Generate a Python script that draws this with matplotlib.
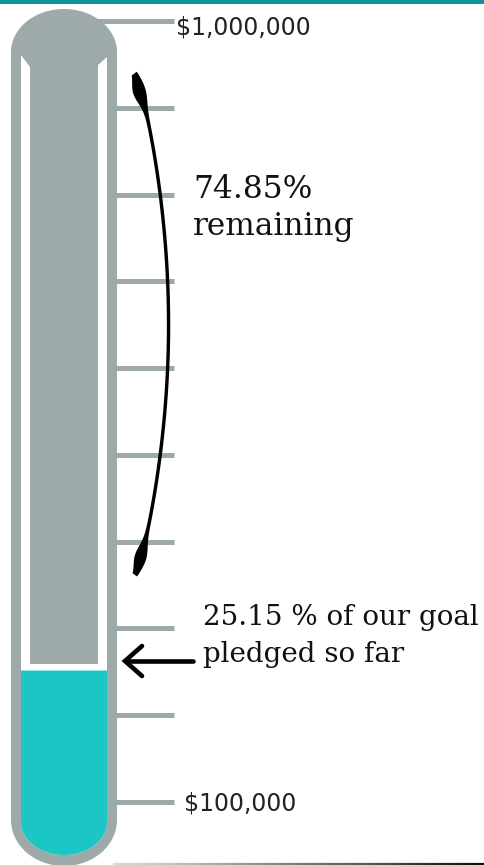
import numpy as np
import matplotlib
matplotlib.use("Agg")
import matplotlib.pyplot as plt
from matplotlib.patches import Rectangle, Ellipse, Polygon
from matplotlib.collections import LineCollection

# ---------------- data ----------------
goal = 1_000_000
tick_values = [100000, 200000, 300000, 400000, 500000,
               600000, 700000, 800000, 900000, 1000000]
tick_labels = {100000: "$100,000", 1000000: "$1,000,000"}
pledged_pct = 25.15
remaining_pct = 74.85
pledged_value = goal * pledged_pct / 100.0

# ---------------- style ----------------
GREY = "#9eaaa9"
TEAL = "#1cc6c4"
BAR = "#0b9397"
W, H = 484, 865

fig = plt.figure(figsize=(W / 100, H / 100), dpi=100)
ax = fig.add_axes([0, 0, 1, 1])
ax.axis("off")

# vertical layout: dollar scale anchored to pixel rows of the ticks
PX_LO, PX_HI = 802, 21            # pixel rows of lowest / highest tick
K = (tick_values[-1] - tick_values[0]) / (PX_LO - PX_HI)   # dollars per px


def Y(p):
    """pixel row -> dollar coordinate (layout helper)"""
    return tick_values[-1] + (PX_HI - p) * K


ax.set_xlim(0, W)
ax.set_ylim(Y(H), Y(0))

# top colour band
ax.add_patch(Rectangle((0, Y(4)), W, Y(0) - Y(4), color=BAR, lw=0, zorder=1))

# tick lines
for v in tick_values:
    ax.plot([64, 174], [v, v], color=GREY, lw=3.6, solid_capstyle="butt", zorder=1)

# outer thermometer body
ax.add_patch(Rectangle((11, Y(820)), 106, Y(50) - Y(820), color=GREY, lw=0, zorder=2))
ax.add_patch(Ellipse((64, Y(52)), 106, 86 * K, color=GREY, lw=0, zorder=2))
ax.add_patch(Ellipse((64, Y(820)), 106, 92 * K, color=GREY, lw=0, zorder=2))

# white inner tube
th = np.linspace(np.pi, 2 * np.pi, 60)
bx = 64 + 43 * np.cos(th)
by = 822 - 33 * np.sin(th)
tube = [(21, 55), (30, 67), (98, 65), (107, 57), (107, 822)]
tube += list(zip(bx[::-1], by[::-1]))
tube += [(21, 822)]
ax.add_patch(Polygon([(x, Y(y)) for x, y in tube], closed=True,
                     color="white", lw=0, zorder=3))

# remaining (grey) fill
gap = 7 * K
ax.add_patch(Rectangle((30, pledged_value + gap), 68, Y(45) - (pledged_value + gap),
                       color=GREY, lw=0, zorder=4))

# pledged (teal) fill
teal = [(21, pledged_value), (107, pledged_value), (107, Y(822))]
teal += [(x, Y(y)) for x, y in zip(bx[::-1], by[::-1])]
teal += [(21, Y(822))]
ax.add_patch(Polygon(teal, closed=True, color=TEAL, lw=0, zorder=4))

# brace for the remaining part
ys = np.linspace(73, 575, 500)
t = (ys - 73) / 502
xc = 135 + 34 * np.sin(np.pi * t) ** 0.75
w = (3.4 + 9.5 * np.exp(-((t - 0.035) / 0.032) ** 2)
     + 8.5 * np.exp(-((t - 0.965) / 0.03) ** 2))
dx = np.gradient(xc, ys)
nrm = np.sqrt(1 + dx ** 2)
nx, ny = 1 / nrm, -dx / nrm
a = 0.68 - 0.10 * t
b = 1 - a
left = [(x - aa * ww * n1, y - aa * ww * n2) for x, y, ww, n1, n2, aa in zip(xc, ys, w, nx, ny, a)]
right = [(x + bb * ww * n1, y + bb * ww * n2) for x, y, ww, n1, n2, bb in zip(xc, ys, w, nx, ny, b)]
brace = left + right[::-1]
ax.add_patch(Polygon([(x, Y(y)) for x, y in brace], closed=True,
                     color="black", lw=0, zorder=6, antialiased=True))

# arrow pointing at the pledged level
ay = 661
ax.plot([193, 126], [Y(ay), Y(ay)], color="black", lw=3.3,
        solid_capstyle="round", zorder=6)
ax.plot([142, 125, 142], [Y(ay - 15), Y(ay), Y(ay + 15)], color="black", lw=3.3,
        solid_capstyle="round", solid_joinstyle="miter", zorder=6)

# bottom gradient rule
xs = np.linspace(113, W, 60)
segs = [[(xs[i], Y(864)), (xs[i + 1], Y(864))] for i in range(len(xs) - 1)]
cols = [plt.cm.Greys(0.25 + 0.7 * i / (len(xs) - 2)) for i in range(len(xs) - 1)]
ax.add_collection(LineCollection(segs, colors=cols, linewidths=1.6, zorder=1))

# labels
ax.text(176, Y(35), tick_labels[1000000], fontsize=17, family="DejaVu Sans",
        color="#222222", va="baseline", ha="left", zorder=7)
ax.text(184, Y(811), tick_labels[100000], fontsize=17, family="DejaVu Sans",
        color="#222222", va="baseline", ha="left", zorder=7)

ax.text(193, Y(198), f"{remaining_pct:.2f}%", fontsize=22.5, family="DejaVu Serif",
        color="#111111", va="baseline", ha="left", zorder=7)
ax.text(193, Y(235), "remaining", fontsize=22.5, family="DejaVu Serif",
        color="#111111", va="baseline", ha="left", zorder=7)

ax.text(203, Y(625), f"{pledged_pct:.2f} % of our goal", fontsize=20, family="DejaVu Serif",
        color="#111111", va="baseline", ha="left", zorder=7)
ax.text(203, Y(662), "pledged so far", fontsize=20, family="DejaVu Serif",
        color="#111111", va="baseline", ha="left", zorder=7)

fig.savefig("out.png", dpi=100)
